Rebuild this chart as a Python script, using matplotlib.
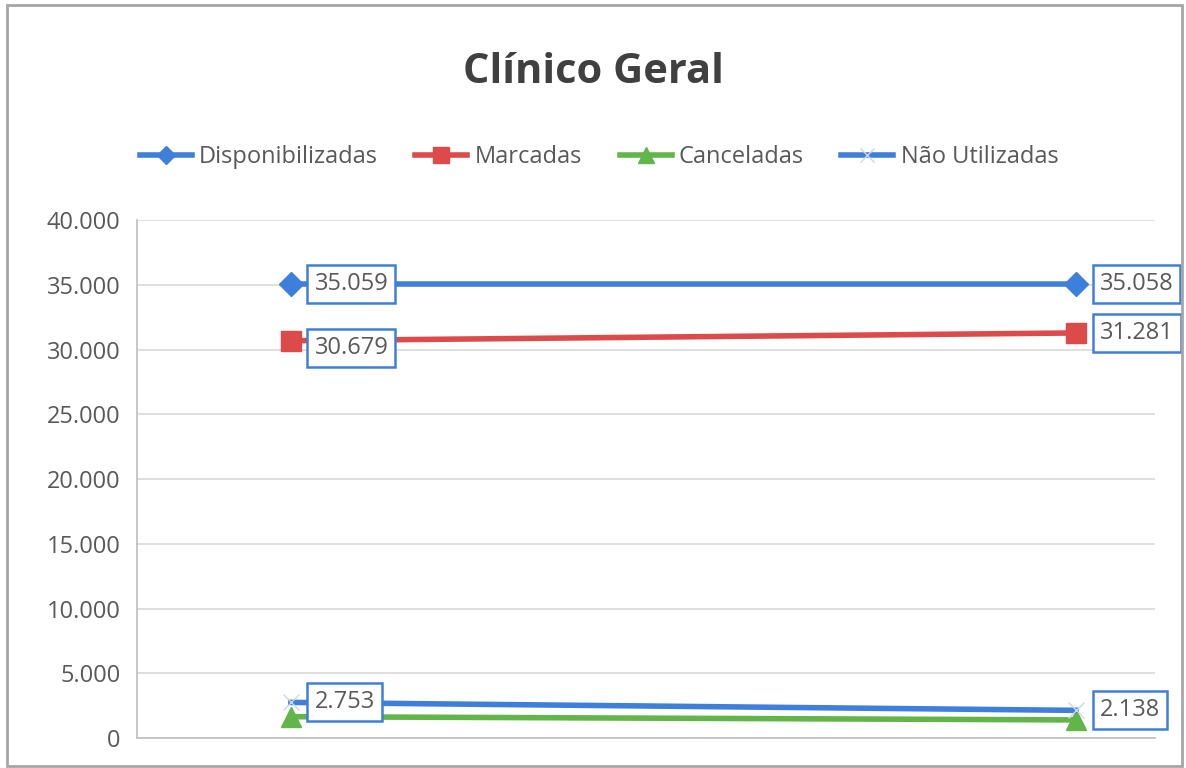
import matplotlib
matplotlib.use("Agg")
import matplotlib.pyplot as plt
from matplotlib.patches import Rectangle

plt.rcParams['font.family'] = ['Open Sans', 'DejaVu Sans']

# dados
categorias = [0, 1]
disponibilizadas = [35059, 35058]
marcadas = [30679, 31281]
canceladas = [1650, 1400]
nao_utilizadas = [2753, 2138]
yticks = [0, 5000, 10000, 15000, 20000, 25000, 30000, 35000, 40000]

azul = '#3f7fdc'
vermelho = '#dc4a4a'
verde = '#62b548'
cinza_txt = '#595959'

def fmt(v):
    return '{:,}'.format(v).replace(',', '.')

fig = plt.figure(figsize=(11.86, 7.68), dpi=100)
fig.patches.append(Rectangle((0.006, 0.003), 0.991, 0.99, transform=fig.transFigure,
                             fill=False, edgecolor='#a6a6a6', linewidth=2))
ax = fig.add_axes([0.1155, 0.039, 0.858, 0.6745])

ax.plot(categorias, disponibilizadas, color=azul, lw=4, marker='D', ms=12,
        label='Disponibilizadas', zorder=5)
ax.plot(categorias, marcadas, color=vermelho, lw=4, marker='s', ms=15,
        label='Marcadas', zorder=5)
ax.plot(categorias, canceladas, color=verde, lw=4, marker='^', ms=14,
        label='Canceladas', zorder=4)
ax.plot(categorias, nao_utilizadas, color=azul, lw=4, marker='x', ms=12, mec='#c8d8f0',
        label='Não Utilizadas', zorder=5)

caixa = dict(boxstyle='square,pad=0.3', fc='white', ec=azul, lw=1.8)
for serie, dys in [(disponibilizadas, (0, 0)), (marcadas, (-5, 0)), (nao_utilizadas, (0, 0))]:
    for x, v, dy in zip(categorias, serie, dys):
        ax.annotate(fmt(v), (x, v), xytext=(17, dy), textcoords='offset points',
                    ha='left', va='center', fontsize=17, color=cinza_txt,
                    bbox=caixa, zorder=6, annotation_clip=False)

ax.set_xlim(-0.196, 1.1)
ax.set_ylim(0, 40000)
ax.set_yticks(yticks)
ax.set_yticklabels([fmt(v) for v in yticks], fontsize=17, color=cinza_txt)
ax.set_xticks([])
ax.tick_params(axis='y', length=0, pad=12)
ax.grid(axis='y', color='#d9d9d9', lw=1.2)
ax.set_axisbelow(True)
for s in ['top', 'right']:
    ax.spines[s].set_visible(False)
for s in ['left', 'bottom']:
    ax.spines[s].set_color('#bfbfbf')
    ax.spines[s].set_linewidth(1.2)

fig.text(0.5, 0.905, 'Clínico Geral', ha='center', va='center', fontsize=30,
         fontweight='bold', color='#404040')
fig.legend(loc='center', bbox_to_anchor=(0.505, 0.795), ncol=4, frameon=False,
           fontsize=17, labelcolor=cinza_txt, handlelength=2.2, handletextpad=0.3,
           columnspacing=1.6, markerscale=0.8)

fig.savefig('out.png', dpi=100)
